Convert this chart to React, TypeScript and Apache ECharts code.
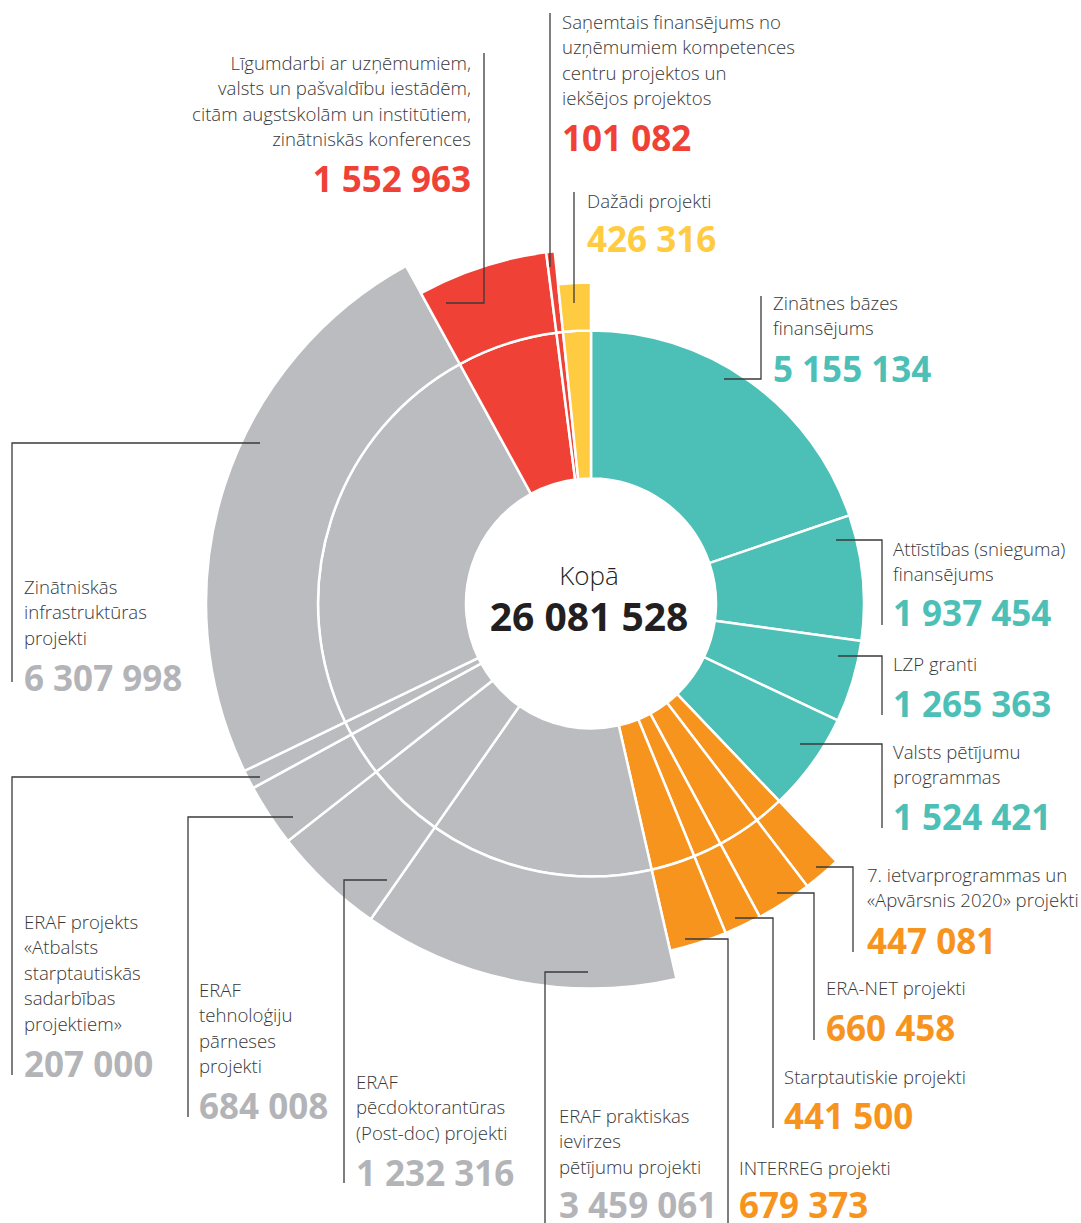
import React, { useEffect, useRef } from "react";
import * as echarts from "echarts";

// ---------- DATA ----------
const categories = [
  "Zinātnes bāzes finansējums",
  "Attīstības (snieguma) finansējums",
  "LZP granti",
  "Valsts pētījumu programmas",
  "7. ietvarprogrammas un «Apvārsnis 2020» projekti",
  "ERA-NET projekti",
  "Starptautiskie projekti",
  "INTERREG projekti",
  "ERAF praktiskas ievirzes pētījumu projekti",
  "ERAF pēcdoktorantūras (Post-doc) projekti",
  "ERAF tehnoloģiju pārneses projekti",
  "ERAF projekts «Atbalsts starptautiskās sadarbības projektiem»",
  "Zinātniskās infrastruktūras projekti",
  "Līgumdarbi ar uzņēmumiem, valsts un pašvaldību iestādēm, citām augstskolām un institūtiem, zinātniskās konferences",
  "Saņemtais finansējums no uzņēmumiem kompetences centru projektos un iekšējos projektos",
  "Dažādi projekti",
];
const values = [
  5155134, 1937454, 1265363, 1524421,
  447081, 660458, 441500, 679373,
  3459061, 1232316, 684008, 207000, 6307998,
  1552963, 101082,
  426316,
];
// group index of each category: 0 teal, 1 orange, 2 gray, 3 red, 4 yellow
const groupOf = [0, 0, 0, 0, 1, 1, 1, 1, 2, 2, 2, 2, 2, 3, 3, 4];
const labelLines = [
  ["Zinātnes bāzes", "finansējums"],
  ["Attīstības (snieguma)", "finansējums"],
  ["LZP granti"],
  ["Valsts pētījumu", "programmas"],
  ["7. ietvarprogrammas un", "«Apvārsnis 2020» projekti"],
  ["ERA-NET projekti"],
  ["Starptautiskie projekti"],
  ["INTERREG projekti"],
  ["ERAF praktiskas", "ievirzes", "pētījumu projekti"],
  ["ERAF", "pēcdoktorantūras", "(Post-doc) projekti"],
  ["ERAF", "tehnoloģiju", "pārneses", "projekti"],
  ["ERAF projekts", "«Atbalsts", "starptautiskās", "sadarbības", "projektiem»"],
  ["Zinātniskās", "infrastruktūras", "projekti"],
  ["Līgumdarbi ar uzņēmumiem,", "valsts un pašvaldību iestādēm,", "citām augstskolām un institūtiem,", "zinātniskās konferences"],
  ["Saņemtais finansējums no", "uzņēmumiem kompetences", "centru projektos un", "iekšējos projektos"],
  ["Dažādi projekti"],
];
const totalTitle = "Kopā";

// ---------- STYLE / LAYOUT ----------
const SLICE_COLORS = ["#4cc0b6", "#f7941e", "#bbbcbf", "#ef4136", "#ffcb40"];
const NUMBER_COLORS = ["#4cc0b6", "#f7941e", "#b3b4b7", "#ef4136", "#ffcb40"];
const CX = 591;
const CY = 603.5;
const R_IN = 125;
const R_MID = 273;
const OUTER_R = [0, 356, 385, 354, 321];
const TEXT_COLOR = "#383838";
const LINE_COLOR = "#3a3a3a";
const FONT = "'Open Sans', 'Noto Sans', sans-serif";
const LINE_H = 25.5;
const DESC_SIZE = 18.6;
const NUM_SIZE = 35;

const labelPos: { x: number; y: number; ny: number; align?: string }[] = [
  { x: 773, y: 302, ny: 368 },
  { x: 893, y: 548, ny: 612 },
  { x: 893, y: 663, ny: 703 },
  { x: 893, y: 751, ny: 816 },
  { x: 867, y: 874, ny: 940 },
  { x: 826, y: 987, ny: 1027 },
  { x: 784, y: 1076, ny: 1115 },
  { x: 739, y: 1167, ny: 1204 },
  { x: 559, y: 1115, ny: 1204 },
  { x: 356, y: 1081, ny: 1172 },
  { x: 199, y: 989, ny: 1105 },
  { x: 24, y: 921, ny: 1063 },
  { x: 24, y: 586, ny: 677 },
  { x: 471, y: 62, ny: 178, align: "right" },
  { x: 562, y: 21, ny: 137 },
  { x: 587, y: 200, ny: 238 },
];
const leaders: number[][][] = [
  [[761, 296], [761, 379], [724, 379]],
  [[882, 625], [882, 540], [836, 540]],
  [[882, 715], [882, 656], [838, 656]],
  [[882, 828], [882, 744], [800, 744]],
  [[853, 952], [853, 867], [816, 867]],
  [[814, 1040], [814, 893], [777, 893]],
  [[773, 1128], [773, 918], [735, 918]],
  [[728, 1223], [728, 939], [685, 939]],
  [[545, 1223], [545, 972], [588, 972]],
  [[344, 1183], [344, 880], [387, 880]],
  [[188, 1117], [188, 817], [293, 817]],
  [[12, 1075], [12, 777], [260, 777]],
  [[12, 682], [12, 443], [260, 443]],
  [[484, 53], [484, 303], [446, 303]],
  [[550, 13], [550, 267]],
  [[574, 192], [574, 303]],
];

const fmt = (v: number) => String(v).replace(/\B(?=(\d{3})+(?!\d))/g, " ");

function textEl(text: string, x: number, y: number, size: number, weight: number, fill: string, align: string) {
  return {
    type: "text",
    z: 100,
    silent: true,
    style: {
      text,
      x,
      y,
      fill,
      fontFamily: FONT,
      fontSize: size,
      fontWeight: weight,
      align,
      verticalAlign: "middle",
      textAlign: align,
      textVerticalAlign: "middle",
    },
  };
}

function buildOption() {
  const base = {
    type: "pie",
    center: [CX, CY],
    startAngle: 90,
    clockwise: true,
    silent: true,
    avoidLabelOverlap: false,
    label: { show: false },
    labelLine: { show: false },
    emphasis: { disabled: true },
  };
  const inner = {
    ...base,
    radius: [R_IN, R_MID],
    data: values.map((v, i) => ({
      name: categories[i],
      value: v,
      itemStyle: { color: SLICE_COLORS[groupOf[i]], borderColor: "#ffffff", borderWidth: 2.5 },
    })),
  };
  const outerRadii = Array.from(new Set(OUTER_R.filter((r) => r > 0)));
  const outers = outerRadii.map((r) => ({
    ...base,
    radius: [R_MID, r],
    data: values.map((v, i) => {
      const show = OUTER_R[groupOf[i]] === r;
      return {
        name: categories[i],
        value: v,
        itemStyle: show
          ? { color: SLICE_COLORS[groupOf[i]], borderColor: "#ffffff", borderWidth: 2.5 }
          : { color: "rgba(0,0,0,0)", borderWidth: 0 },
      };
    }),
  }));

  const graphics: any[] = [];
  leaders.forEach((pts) => {
    graphics.push({
      type: "polyline",
      z: 100,
      silent: true,
      shape: { points: pts },
      style: { stroke: LINE_COLOR, lineWidth: 1.3, fill: null },
    });
  });
  labelLines.forEach((lines, i) => {
    const p = labelPos[i];
    const align = p.align || "left";
    lines.forEach((t, k) => {
      graphics.push(textEl(t, p.x, p.y + k * LINE_H, DESC_SIZE, 300, TEXT_COLOR, align));
    });
    graphics.push(textEl(fmt(values[i]), p.x, p.ny, NUM_SIZE, 700, NUMBER_COLORS[groupOf[i]], align));
  });
  const total = values.reduce((a, b) => a + b, 0);
  graphics.push(textEl(totalTitle, 589, 575, 26, 300, "#231f20", "center"));
  graphics.push(textEl(fmt(total), 589, 615, 39, 700, "#231f20", "center"));

  return {
    animation: false,
    backgroundColor: "#ffffff",
    series: [inner, ...outers],
    graphic: { elements: graphics },
  };
}

export default function App() {
  const ref = useRef<HTMLDivElement>(null);
  useEffect(() => {
    document.body.style.margin = "0";
    const chart = echarts.init(ref.current!, undefined, { renderer: "svg" });
    chart.setOption(buildOption() as any);
    return () => chart.dispose();
  }, []);
  return (
    <div
      ref={ref}
      style={{ position: "absolute", left: 0, top: 0, width: 1081, height: 1223 }}
    />
  );
}
